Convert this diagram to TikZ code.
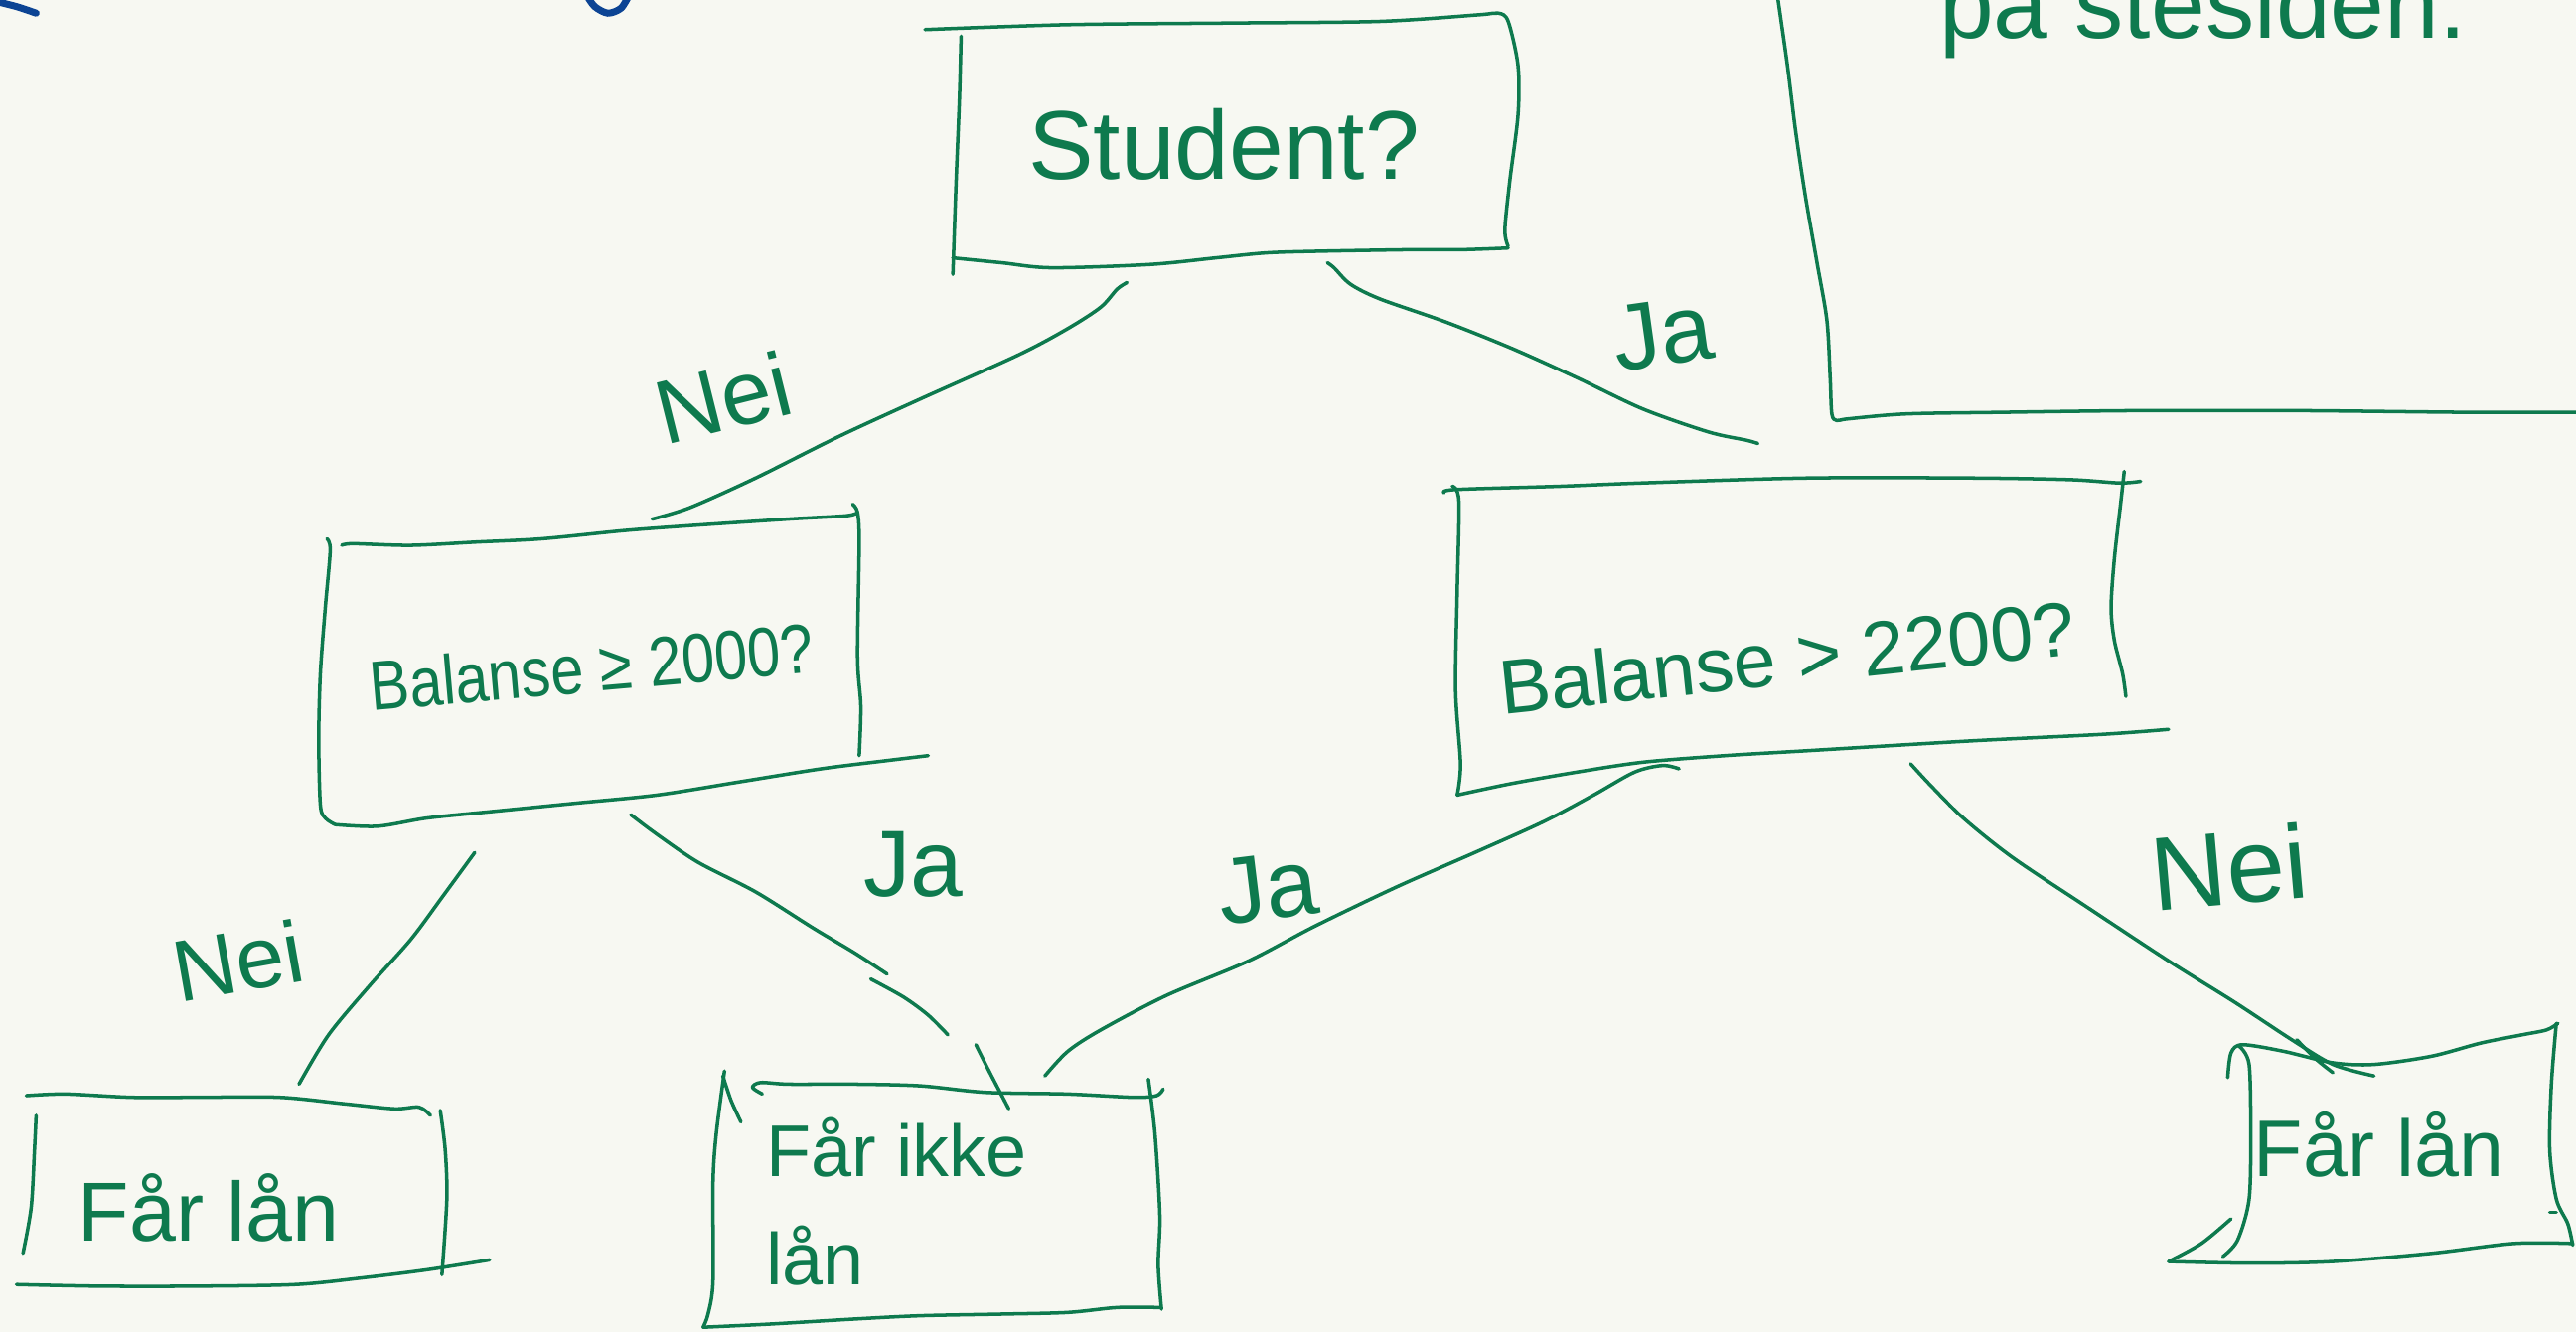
\documentclass[tikz,border=0pt]{standalone}
\usepackage{fontspec}
\setmainfont{Liberation Sans}
\definecolor{inkgreen}{RGB}{14,122,78}
\definecolor{inkblue}{RGB}{12,68,148}
\definecolor{paper}{RGB}{247,248,242}
\begin{document}
\begin{tikzpicture}[x=0.016537cm,y=-0.016537cm,
  ink/.style={draw=inkgreen,line width=1pt,line cap=round,line join=round},
  lbl/.style={text=inkgreen,inner sep=0pt}]
\useasboundingbox (0,0) rectangle (1568,811);
\fill[paper] (0,0) rectangle (1568,811);
\clip (0,0) rectangle (1568,811);

% partial blue strokes at the top edge
\draw[draw=inkblue,line width=2pt,line cap=round] plot[smooth] coordinates {(-2,1) (10,4) (22,8)};
\draw[draw=inkblue,line width=2pt,line cap=round] plot[smooth] coordinates {(357,-3) (362,4) (370,8) (378,5) (383,-3)};

% partial frame top right
\draw[ink] plot[smooth] coordinates {(1082,-2) (1088,40) (1093,80) (1099,120) (1106,160) (1112,195) (1114,230) (1115,252) (1118,256) (1125,255) (1160,252) (1220,251) (1300,250) (1400,250) (1500,251) (1570,251)};
\node[lbl,anchor=base west,font=\fontsize{28}{30}\selectfont] (note) at (1180,23) {på stesiden.};

% ---------- Student? box ----------
\draw[ink] plot[smooth] coordinates {(563,18) (650,15) (750,14) (840,13) (900,9) (912,8) (918,13) (924,40) (924,70) (919,110) (916,140) (918,150)};
\draw[ink] plot[smooth] coordinates {(918,151) (890,152) (860,152) (800,153) (770,154) (740,157) (700,161) (640,163) (610,160) (580,157)};
\draw[ink] plot[smooth] coordinates {(585,22) (584,60) (582,110) (580,167)};
\node[lbl,font=\fontsize{28}{30}\selectfont] (student) at (745,88) {Student?};

% ---------- Balanse >= 2000? box ----------
\draw[ink] plot[smooth] coordinates {(208,332) (215,331) (250,332) (290,330) (330,328) (380,323) (420,320) (480,316) (515,314) (522,312)};
\draw[ink] plot[smooth] coordinates {(519,307) (522,312) (523,330) (522,400) (524,430) (523,460)};
\draw[ink] plot[smooth] coordinates {(199,328) (201,335) (198,370) (195,410) (194,450) (195,490) (198,498) (204,502)};
\draw[ink] plot[smooth] coordinates {(204,502) (230,503) (260,498) (300,494) (350,489) (400,484) (450,476) (500,468) (540,463) (565,460)};
\node[lbl,font=\fontsize{20}{24}\selectfont,rotate=5] (bal1) at (360,406) {\scalebox{0.85}[1]{Balanse ≥ 2000?}};

% ---------- Balanse > 2200? box ----------
\draw[ink] plot[smooth] coordinates {(879,300) (886,298) (950,296) (1000,294) (1100,291) (1200,291) (1260,292) (1290,294) (1303,293)};
\draw[ink] plot[smooth] coordinates {(884,296) (888,305) (887,360) (886,420) (889,465) (887,484)};
\draw[ink] plot[smooth] coordinates {(1293,287) (1291,305) (1287,340) (1285,370) (1287,390) (1292,410) (1294,424)};
\draw[ink] plot[smooth] coordinates {(887,484) (920,477) (960,470) (1000,464) (1050,460) (1100,457) (1200,451) (1280,447) (1320,444)};
\node[lbl,font=\fontsize{22}{26}\selectfont,rotate=6] (bal2) at (1088,400) {Balanse > 2200?};

% ---------- bottom-left: Får lån ----------
\draw[ink] plot[smooth] coordinates {(16,667) (40,666) (80,668) (120,668) (170,668) (210,672) (240,675) (255,674) (262,679)};
\draw[ink] plot[smooth] coordinates {(22,679) (21,700) (19,735) (14,763)};
\draw[ink] plot[smooth] coordinates {(268,676) (271,700) (272,730) (269,776)};
\draw[ink] plot[smooth] coordinates {(10,782) (60,783) (120,783) (180,782) (220,778) (260,773) (298,767)};
\node[lbl,font=\fontsize{24}{28}\selectfont] (laan1) at (127,735) {Får lån};

% ---------- bottom-middle: Får ikke lån ----------
\draw[ink] plot[smooth] coordinates {(464,666) (458,662) (463,659) (480,660) (520,660) (560,661) (600,665) (650,666) (690,668) (704,667) (708,663)};
\draw[ink] plot[smooth] coordinates {(440,655) (445,670) (451,683)};
\draw[ink] plot[smooth] coordinates {(441,652) (436,690) (434,720) (434,780) (431,800) (428,808)};
\draw[ink] plot[smooth] coordinates {(699,657) (703,690) (706,740) (705,770) (707,797)};
\draw[ink] plot[smooth] coordinates {(428,808) (470,806) (520,803) (560,801) (610,800) (650,799) (680,796) (706,796)};
\node[lbl,font=\fontsize{21}{31}\selectfont,align=left,anchor=north west] (ikke) at (466,680) {Får ikke\\lån};

% ---------- bottom-right: Får lån ----------
\draw[ink] plot[smooth] coordinates {(1356,656) (1358,641) (1365,636) (1390,640) (1420,647) (1445,648) (1480,643) (1510,635) (1535,630) (1550,627) (1557,623)};
\draw[ink] plot[smooth] coordinates {(1363,637) (1369,648) (1370,690) (1369,730) (1362,755) (1353,765)};
\draw[ink] plot[smooth] coordinates {(1556,623) (1553,660) (1552,700) (1556,730) (1563,745) (1566,758)};
\draw[ink] plot[smooth] coordinates {(1320,768) (1370,769) (1420,768) (1480,763) (1530,757) (1566,757)};
\draw[ink] plot[smooth] coordinates {(1320,768) (1340,757) (1358,742)};
\draw[ink] (1552,738) -- (1556,738);
\node[lbl,font=\fontsize{23}{27}\selectfont] (laan2) at (1448,697) {Får lån};

% ---------- connector end points ----------
\coordinate (s-no) at (686,172);
\coordinate (b1-top) at (397,316);
\coordinate (s-yes) at (808,160);
\coordinate (b2-top) at (1070,270);
\coordinate (b1-no) at (289,519);
\coordinate (l1-top) at (182,660);
\coordinate (b1-yes) at (384,496);
\coordinate (ik-top) at (577,630);
\coordinate (b2-yes) at (1022,468);
\coordinate (ik-top2) at (636,655);
\coordinate (b2-no) at (1163,465);
\coordinate (l2-top) at (1445,655);

% ---------- connectors ----------
\draw[ink] plot[smooth] coordinates {(s-no) (680,176) (670,187) (650,200) (620,216) (560,243) (510,266) (460,291) (420,309) (b1-top)};
\draw[ink] plot[smooth] coordinates {(s-yes) (812,163) (822,173) (840,182) (880,196) (920,212) (960,230) (1000,249) (1040,263) (1063,268) (b2-top)};
\draw[ink] plot[smooth] coordinates {(b1-no) (270,545) (250,572) (225,600) (200,630) (l1-top)};
\draw[ink] plot[smooth] coordinates {(b1-yes) (400,508) (425,525) (460,543) (495,565) (520,580) (540,593)};
\draw[ink] plot[smooth] coordinates {(530,596) (550,607) (565,618) (ik-top)};
\draw[ink] plot[smooth] coordinates {(594,636) (602,652) (614,675)};
\draw[ink] plot[smooth] coordinates {(b2-yes) (1012,466) (995,470) (970,484) (940,500) (900,518) (850,540) (800,564) (760,585) (710,606) (670,627) (650,640) (ik-top2)};
\draw[ink] plot[smooth] coordinates {(b2-no) (1175,478) (1195,498) (1225,522) (1270,552) (1320,585) (1360,610) (1395,633) (1420,648) (l2-top)};
\draw[ink] plot[smooth] coordinates {(1398,633) (1410,645) (1420,653)};

% ---------- edge labels ----------
\node[lbl,font=\fontsize{26}{30}\selectfont,rotate=14] (nei1) at (440,242) {Nei};
\node[lbl,font=\fontsize{27}{30}\selectfont,rotate=8] (ja1) at (1012,203) {Ja};
\node[lbl,font=\fontsize{25}{30}\selectfont,rotate=10] (nei2) at (145,585) {Nei};
\node[lbl,font=\fontsize{27}{30}\selectfont] (ja2) at (556,526) {Ja};
\node[lbl,font=\fontsize{27}{30}\selectfont,rotate=7] (ja3) at (772,540) {Ja};
\node[lbl,font=\fontsize{30}{34}\selectfont,rotate=5] (nei3) at (1357,528) {Nei};
\end{tikzpicture}
\end{document}
